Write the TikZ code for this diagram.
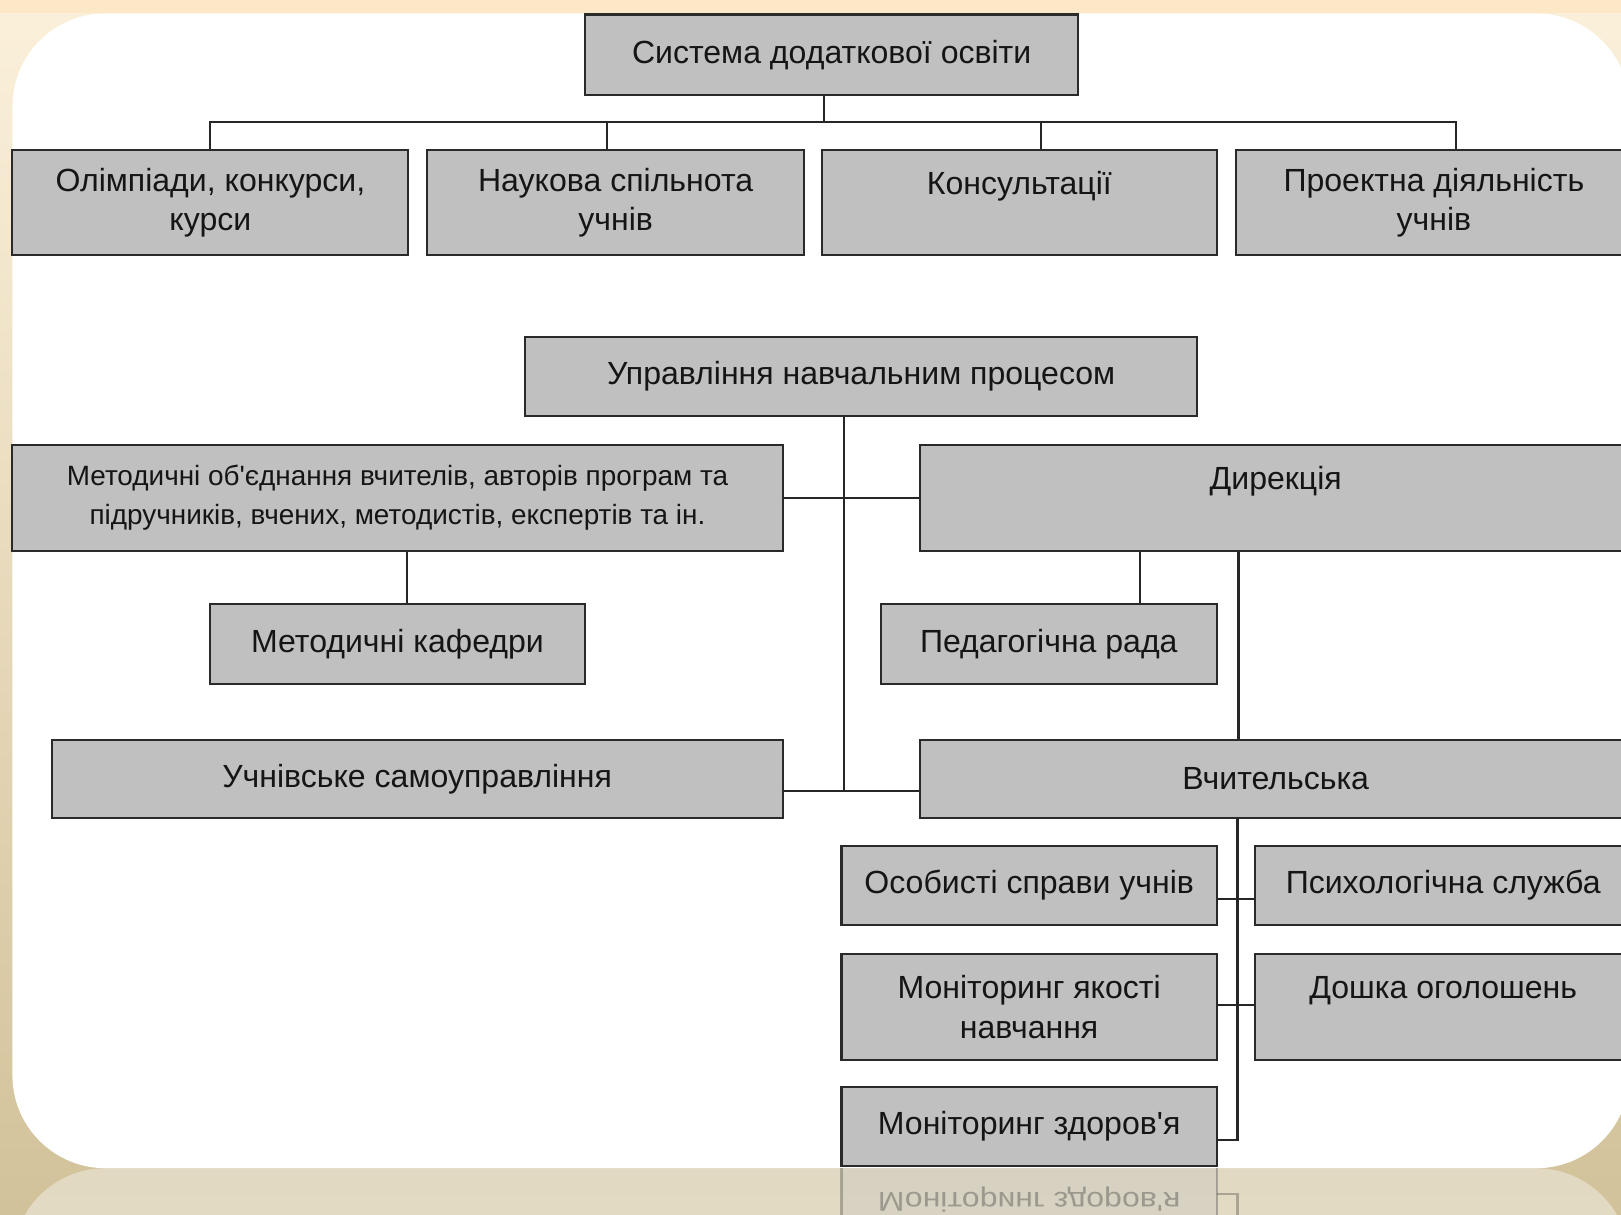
\documentclass[tikz,border=0pt]{standalone}
\usepackage{fontspec}
\setmainfont{Liberation Sans}
\usetikzlibrary{calc}
\definecolor{boxfill}{HTML}{C0C0C0}
\definecolor{boxline}{HTML}{2A2A2A}
\definecolor{bgtop}{HTML}{FBF0DA}
\definecolor{bgbot}{HTML}{D2C29A}
\definecolor{strip}{HTML}{FCE8C6}
\definecolor{refl}{HTML}{E2D9C2}
\definecolor{txt}{HTML}{151515}
\newcommand{\apos}{\textquotesingle}
\begin{document}
\begin{tikzpicture}[x=1pt,y=-1pt,
  box/.style={draw=boxline, fill=boxfill, line width=2pt, inner sep=0pt,
    align=center, text=txt, font=\fontsize{31}{38}\selectfont},
  smallbox/.style={box, font=\fontsize{27}{38}\selectfont},
  link/.style={draw=black!85, line width=2pt}]
\useasboundingbox (0,0) rectangle (1568,1175);
\clip (0,0) rectangle (1568,1175);
% background
\shade[top color=bgtop, bottom color=bgbot] (0,0) rectangle (1568,1175);
\fill[strip] (0,0) rectangle (1568,13);
\shade[top color=refl, bottom color=refl!85!white, rounded corners=90pt] (12,1130) rectangle (1576,1420);
\fill[white, rounded corners=90pt] (12,13) rectangle (1576,1130);
% reflection of the lowest box
\begin{scope}[opacity=0.3]
  \fill[boxfill] (814,1130) rectangle (1177,1180);
  \draw[boxline, line width=2pt] (814,1130) -- (814,1180) (1177,1130) -- (1177,1180);
  \draw[boxline, line width=2pt] (1177,1155) -- (1197,1155) -- (1197,1180);
  \node[text=txt, font=\fontsize{31}{38}\selectfont, inner sep=0pt] (zdr) at (995.5,1160) {\scalebox{1}[-0.85]{Моніторинг здоров\apos я}};
\end{scope}
% boxes
\node[box, minimum width=477, minimum height=78] (top) at (804.5,53) {Система додаткової освіти};
\node[box, minimum width=383, minimum height=102] (A) at (203.5,196) {Олімпіади, конкурси,\\курси};
\node[box, minimum width=365, minimum height=102] (B) at (595.5,196) {Наукова спільнота\\учнів};
\node[box, minimum width=382, minimum height=102] (C) at (986,196) {Консультації\\\mbox{}};
\node[box, minimum width=382, minimum height=102] (D) at (1387,196) {Проектна діяльність\\учнів};
\node[box, minimum width=650, minimum height=76] (upr) at (833,364) {Управління навчальним процесом};
\node[smallbox, minimum width=745, minimum height=103] (met) at (384.5,481.5) {Методичні об\apos єднання вчителів, авторів програм та\\підручників, вчених, методистів, експертів та ін.};
\node[box, minimum width=688, minimum height=103] (dyr) at (1234,481.5) {Дирекція\\\mbox{}};
\node[box, minimum width=363, minimum height=78] (kaf) at (384.5,623) {Методичні кафедри};
\node[box, minimum width=325, minimum height=78] (ped) at (1014.5,623) {Педагогічна рада};
\node[box, minimum width=707, minimum height=75] (uch) at (403.5,753.5) {Учнівське самоуправління};
\node[box, minimum width=688, minimum height=75] (vch) at (1234,753.5) {Вчительська};
\node[box, minimum width=363, minimum height=77] (os) at (995.5,856.5) {Особисті справи учнів};
\node[box, minimum width=364, minimum height=77] (psy) at (1396,856.5) {Психологічна служба};
\node[box, minimum width=363, minimum height=102] (mon) at (995.5,974) {Моніторинг якості\\навчання};
\node[box, minimum width=364, minimum height=102] (dos) at (1396,974) {Дошка оголошень\\\mbox{}};
\node[box, minimum width=363, minimum height=77] (zd) at (995.5,1089.5) {Моніторинг здоров\apos я};
% junction coordinates
\coordinate (j0) at (797,118);
\coordinate (bA) at (203,118);
\coordinate (bB) at (587,118);
\coordinate (bC) at (1007,118);
\coordinate (bD) at (1408,118);
\coordinate (v1) at (816,765);
\coordinate (kx) at (394,560);
\coordinate (px) at (1103,560);
\coordinate (vx) at (1198,600);
\coordinate (rb) at (1197,1103);
\coordinate (r1) at (1197,870);
\coordinate (r2) at (1197,972);
% connectors
\draw[link] (top.south -| j0) -- (j0);
\draw[link] (A.north -| bA) -- (bA) -- (bD) -- (D.north -| bD);
\draw[link] (bB) -- (B.north -| bB);
\draw[link] (bC) -- (C.north -| bC);
\draw[link] (upr.south -| v1) -- (v1);
\draw[link] (met.east) -- (dyr.west);
\draw[link] (uch.east |- v1) -- (vch.west |- v1);
\draw[link] (met.south -| kx) -- (kaf.north -| kx);
\draw[link] (dyr.south -| px) -- (ped.north -| px);
\draw[link] (dyr.south -| vx) -- (vch.north -| vx);
\draw[link] (vch.south -| rb) -- (rb) -- (zd.east |- rb);
\draw[link] (os.east |- r1) -- (psy.west |- r1);
\draw[link] (mon.east |- r2) -- (dos.west |- r2);
\end{tikzpicture}
\end{document}
